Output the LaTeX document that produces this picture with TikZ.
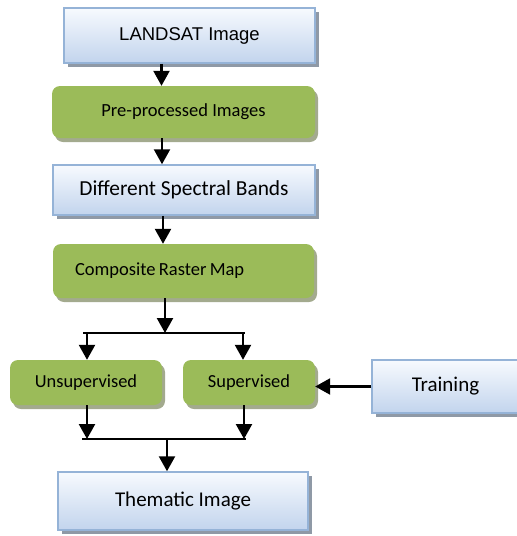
\documentclass[tikz,border=0pt]{standalone}
\usepackage{fontspec}
\setmainfont{Carlito}
\newfontfamily\arialfont{Liberation Sans}
\usetikzlibrary{shadows,arrows.meta}
\definecolor{bluebord}{HTML}{95B3D7}
\definecolor{bluebot}{HTML}{C2D4ED}
\definecolor{bluetop}{HTML}{F7FAFE}
\definecolor{greenfill}{HTML}{9BBB59}
\definecolor{greenshad}{HTML}{A3AA8E}
\definecolor{grayshad}{HTML}{8F99A6}
\tikzset{
  bluebox/.style={draw=bluebord, line width=1.5pt, top color=bluetop, bottom color=bluebot,
    general shadow={shadow xshift=4pt, shadow yshift=-4pt, fill=grayshad},
    inner sep=0pt, anchor=center},
  greenbox/.style={fill=greenfill, rounded corners=8pt,
    general shadow={shadow xshift=3pt, shadow yshift=-4pt, fill=greenshad},
    inner sep=0pt, anchor=center},
  arr/.style={line width=2.4pt, -{Triangle[length=15pt,width=16pt]}},
  ln/.style={line width=2pt},
}
\begin{document}
\begin{tikzpicture}[x=1pt,y=-1pt]
\useasboundingbox (0,0) rectangle (517,536);
\clip (0,0) rectangle (517,536);
\node[bluebox, minimum width=251pt, minimum height=55pt] (landsat) at (189.5,35.5)
  {\arialfont\fontsize{18.5}{20}\selectfont LANDSAT Image};
\node[greenbox, minimum width=263pt, minimum height=52pt] (pre) at (183.5,112)
  {\fontsize{18.5}{20}\selectfont Pre-processed Images};
\node[bluebox, minimum width=262pt, minimum height=50pt] (dsb) at (184,190)
  {\fontsize{21.4}{23}\selectfont Different Spectral Bands};
\node[greenbox, minimum width=261pt, minimum height=54pt, text width=217pt, align=left] (comp) at (183.5,271)
  {\fontsize{18.5}{20}\selectfont Composite Raster Map};
\node[greenbox, minimum width=152pt, minimum height=45pt] (unsup) at (86,382.5)
  {\fontsize{18.4}{20}\selectfont Unsupervised};
\node[greenbox, minimum width=132pt, minimum height=45pt] (sup) at (249,382.5)
  {\fontsize{18.4}{20}\selectfont Supervised};
\node[bluebox, minimum width=147pt, minimum height=53pt] (train) at (445.5,386.5)
  {\fontsize{21}{23}\selectfont Training};
\node[bluebox, minimum width=250pt, minimum height=58pt] (them) at (183,501)
  {\fontsize{21}{23}\selectfont Thematic Image};
% junction coordinates
\coordinate (a1) at (161.5,0);
\coordinate (a2) at (162,0);
\coordinate (a3) at (163,0);
\coordinate (a4) at (165,0);
\coordinate (j1) at (165,333);
\coordinate (j1l) at (83,333);
\coordinate (j1r) at (245,333);
\coordinate (ul) at (87,333);
\coordinate (ur) at (243,333);
\coordinate (j2) at (167,439);
\coordinate (j2l) at (82,439);
\coordinate (j2r) at (246,439);
\coordinate (bl) at (87,439);
\coordinate (br) at (244,439);
\draw[arr] (landsat.south -| a1) -- (pre.north -| a1);
\draw[arr] (pre.south -| a2) -- (dsb.north -| a2);
\draw[arr] (dsb.south -| a3) -- (comp.north -| a3);
\draw[arr] (comp.south -| a4) -- (j1);
\draw[ln] (j1l) -- (j1r);
\draw[arr] (ul) -- (unsup.north -| ul);
\draw[arr] (ur) -- (sup.north -| ur);
\draw[arr] (train.west) -- (sup.east |- train.west);
\draw[arr] (unsup.south -| bl) -- (bl);
\draw[arr] (sup.south -| br) -- (br);
\draw[ln] (j2l) -- (j2r);
\draw[arr] (j2) -- (them.north -| j2);
\end{tikzpicture}
\end{document}
